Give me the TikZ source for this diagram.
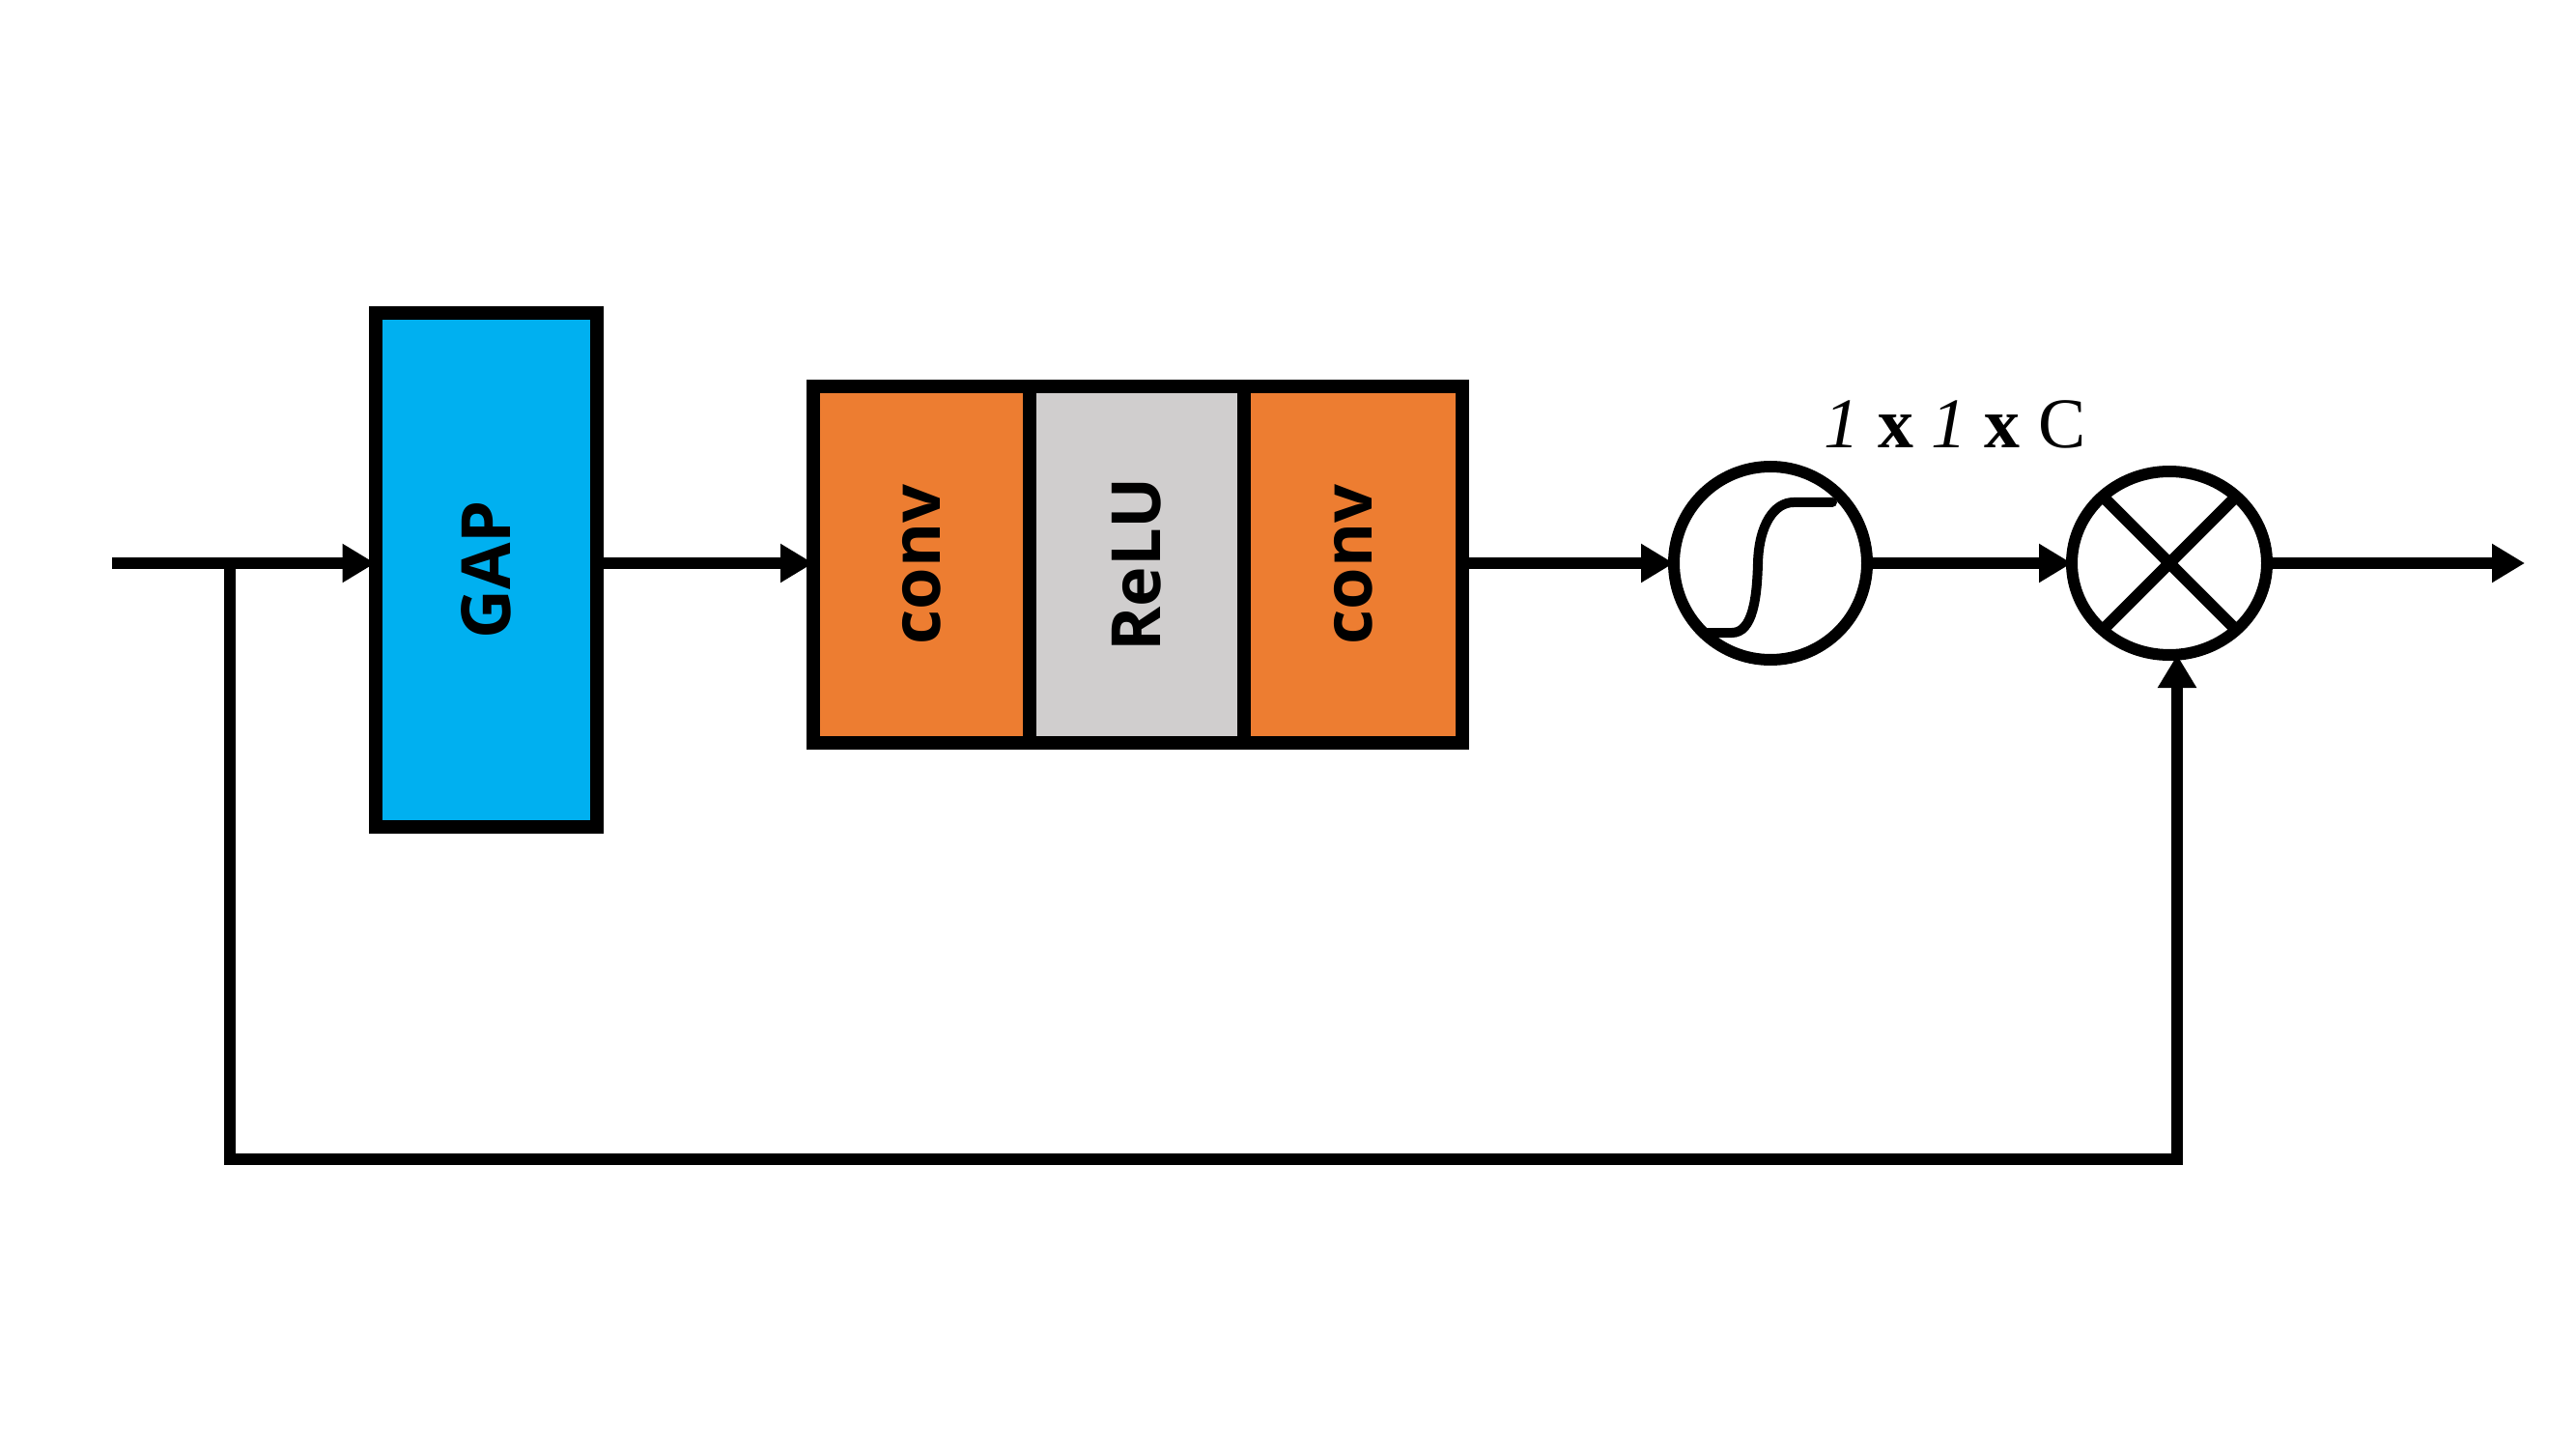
\documentclass[tikz,border=0pt]{standalone}
\usepackage{fontspec}
\setmainfont{Liberation Serif}
\setsansfont{Open Sans}
\usepackage{xcolor}
\usepackage{tikz}
\usetikzlibrary{arrows.meta,positioning,shapes.geometric}

\definecolor{gapblue}{HTML}{00B0F0}
\definecolor{convorange}{HTML}{ED7D31}
\definecolor{relugray}{HTML}{D0CECE}

\begin{document}
\begin{tikzpicture}[
  line/.style={line width=1.2mm},
  arrow/.style={line, -{Triangle[length=3.4mm, width=3.8mm]}},
  block/.style={rectangle, draw=black, line width=1.4mm, outer sep=0pt, inner sep=0pt,
                minimum width=2.24cm, minimum height=3.69cm,
                font=\sffamily\bfseries\fontsize{20}{20}\selectfont},
  gate/.style={ellipse, draw=black, line width=1.2mm, inner sep=0pt, outer sep=0pt}
]
\useasboundingbox (0,0) rectangle (26.67,15);

\coordinate (in) at (1.16,9.17);
\coordinate (split) at (2.38,9.17);
\coordinate (out) at (26.14,9.17);

\node[block, fill=gapblue, minimum width=2.29cm, minimum height=5.31cm] (gap) at (5.03,9.10) {\rotatebox{90}{GAP}};

\node[block, fill=convorange] (conv1) at (9.54,9.155) {\rotatebox{90}{conv}};
\node[block, fill=relugray, right=0pt of conv1, minimum width=2.22cm] (relu) {\rotatebox{90}{ReLU}};
\node[block, fill=convorange, right=0pt of relu, minimum width=2.26cm] (conv2) {\rotatebox{90}{conv}};

\node[gate, minimum size=2cm] (sig) at (18.33,9.17) {};
\node[gate, minimum width=2.02cm, minimum height=1.9cm] (mul) at (22.46,9.17) {};
\node[font=\fontsize{21}{21}\selectfont] (dims) at (20.24,10.61) {\textit{1} \textbf{x} \textit{1} \textbf{x} C};

% sigmoid and product symbols
\draw[line, line width=1.0mm, line cap=round, shift={(sig.center)}]
  (-0.70,-0.72) -- (-0.40,-0.72) .. controls (-0.18,-0.72) and (-0.14,-0.35) .. (-0.13,0)
  .. controls (-0.12,0.40) and (0.04,0.63) .. (0.24,0.63) -- (0.64,0.63);
\draw[line] (mul.45) -- (mul.225);
\draw[line] (mul.135) -- (mul.315);

\coordinate (fbl) at (2.38,3.0);
\coordinate (fbr) at (22.54,3.0);

\draw[arrow] (in) -- (in -| gap.west);
\draw[arrow] (gap.east |- in) -- (conv1.west |- in);
\draw[arrow] (conv2.east |- in) -- (sig.west);
\draw[arrow] (sig.east) -- (mul.west);
\draw[arrow] (mul.east) -- (out);
\draw[arrow] (split) -- (fbl) -- (fbr) -- (fbr |- mul.south);

\end{tikzpicture}
\end{document}
